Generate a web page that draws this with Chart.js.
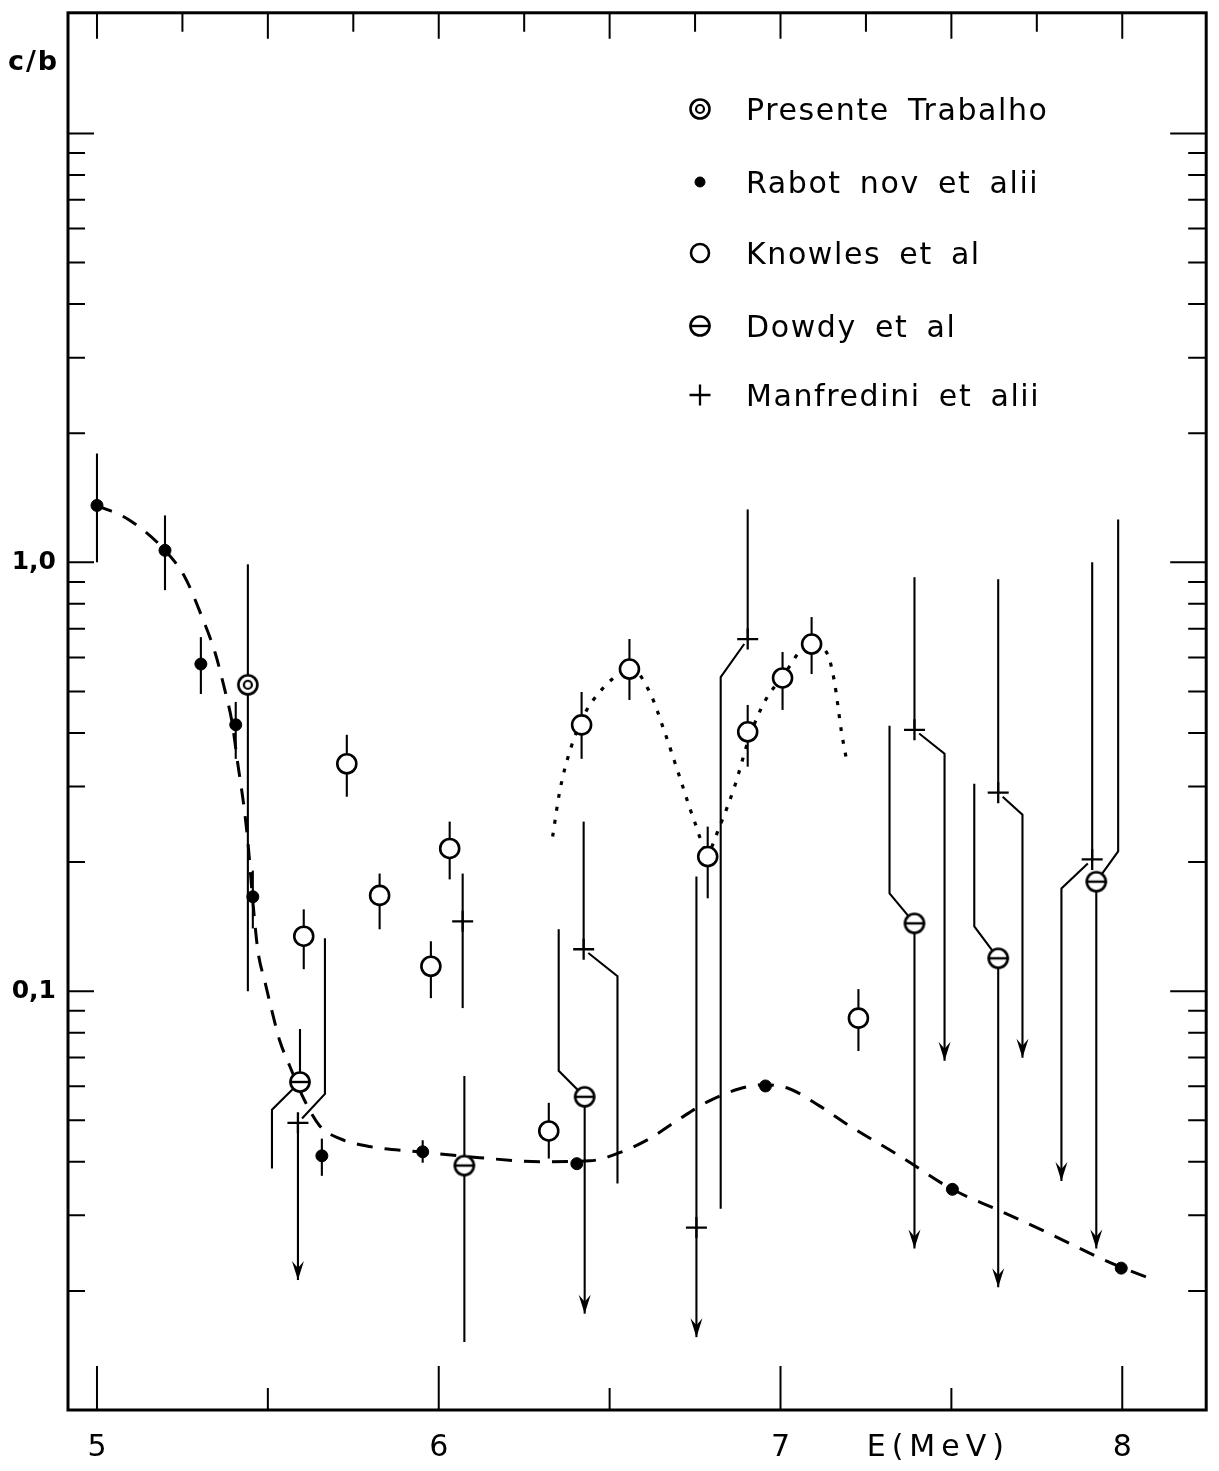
<!DOCTYPE html>
<html><head><meta charset="utf-8">
<script src="https://cdn.jsdelivr.net/npm/chart.js@4/dist/chart.umd.min.js"></script>
<style>html,body{margin:0;padding:0;background:#fff;}canvas{display:block;}</style>
</head><body>
<canvas id="c" width="1219" height="1471"></canvas>
<script>
// ---------------- data ----------------
const seriesNames = ['Presente Trabalho', 'Rabot nov et alii', 'Knowles et al', 'Dowdy et al', 'Manfredini et alii'];

// Presente Trabalho
const presE  = [5.4415];
const presV  = [0.518];
const presLo = [0.100];
const presHi = [0.989];

// Rabotnov et alii
const rabE  = [5.000, 5.199, 5.304, 5.406, 5.456, 5.658, 5.953, 6.404, 6.956, 7.503, 7.997];
const rabV  = [1.357, 1.066, 0.579, 0.418, 0.166, 0.0413, 0.0422, 0.0396, 0.0601, 0.0345, 0.0226];
const rabLo = [1.000, 0.861, 0.493, 0.348, 0.140, 0.0371, 0.0398, null, null, null, null];
const rabHi = [1.793, 1.286, 0.669, 0.4725, 0.191, 0.0453, 0.0449, null, null, null, null];

// Knowles et al
const knE  = [5.605, 5.731, 5.827, 5.977, 6.032, 6.322, 6.418, 6.558, 6.787, 6.904, 7.006, 7.091, 7.228];
const knV  = [0.1343, 0.339, 0.1672, 0.1143, 0.2151, 0.0472, 0.4177, 0.5637, 0.206, 0.4024, 0.5374, 0.6446, 0.0865];
const knLo = [0.1125, 0.284, 0.1394, 0.0963, 0.1822, 0.0407, 0.3481, 0.4775, 0.1646, 0.3337, 0.4526, 0.5489, 0.0725];
const knHi = [0.1551, 0.396, 0.188, 0.1307, 0.2485, 0.0549, 0.4984, 0.6623, 0.2419, 0.4649, 0.6176, 0.7450, 0.1011];

// Dowdy et al
const dowE  = [5.594, 6.075, 6.427, 7.392, 7.637, 7.924];
const dowV  = [0.0614, 0.0392, 0.0567, 0.1439, 0.1193, 0.180];
const dowLo = [0.0386, 0.0152, 0.0177, 0.0251, 0.0204, 0.0251];
const dowHi = [0.0816, 0.0634, 0.1394, 0.4155, 0.3045, 1.259];
const dowLoArrow  = [false, false, true, true, true, true];
const dowLoShiftE = [5.512, null, null, null, null, null];
const dowLoKneeV  = [0.0529, null, null, null, null, null];
const dowHiShiftE = [null, null, 6.351, 7.319, 7.567, 7.988];
const dowHiKneeV  = [null, null, 0.0652, 0.169, 0.1416, 0.2117];

// Manfredini et alii
const manE  = [5.588, 6.070, 6.424, 6.754, 6.904, 7.392, 7.637, 7.912];
const manV  = [0.0493, 0.1455, 0.1252, 0.0281, 0.662, 0.4068, 0.2903, 0.2028];
const manLo = [0.0212, 0.0913, 0.0356, 0.0156, 0.0311, 0.0688, 0.0699, 0.0361];
const manHi = [0.1328, 0.188, 0.2485, 0.185, 1.328, 0.923, 0.913, 1.0];
const manLoArrow  = [true, false, false, true, false, true, true, true];
const manLoShiftE = [null, null, 6.523, null, 6.825, 7.480, 7.708, 7.822];
const manLoKneeV  = [null, null, 0.1083, null, 0.540, 0.3577, 0.258, 0.1736];
const manHiShiftE = [5.667, null, null, null, null, null, null, null];
const manHiKneeV  = [0.0576, null, null, null, null, null, null, null];

// dashed curve (Rabotnov fit)
const rabFitE = [5.000, 5.0965, 5.199, 5.2573, 5.304, 5.345, 5.374, 5.395, 5.412, 5.430, 5.4415, 5.456, 5.471, 5.491, 5.512, 5.535, 5.564, 5.608, 5.652, 5.711, 5.798, 5.944, 6.120, 6.295, 6.442, 6.529, 6.617, 6.705, 6.792, 6.880, 6.953, 7.026, 7.114, 7.202, 7.348, 7.500, 7.640, 7.787, 7.933, 7.997, 8.094];
const rabFitV = [1.357, 1.252, 1.066, 0.923, 0.757, 0.6176, 0.5039, 0.4245, 0.339, 0.2693, 0.2233, 0.162, 0.1239, 0.1055, 0.0898, 0.0765, 0.0669, 0.0555, 0.0485, 0.0453, 0.0434, 0.0422, 0.0409, 0.0400, 0.0402, 0.0420, 0.0453, 0.0504, 0.0555, 0.0592, 0.0605, 0.0592, 0.0540, 0.0485, 0.0413, 0.0346, 0.0308, 0.0272, 0.0239, 0.0227, 0.0212];

// dotted curve (Knowles fit)
const knFitE = [6.3333, 6.3538, 6.383, 6.4269, 6.4708, 6.5146, 6.5585, 6.617, 6.6608, 6.7047, 6.7485, 6.7865, 6.8216, 6.8655, 6.9094, 6.9532, 7.0117, 7.0556, 7.0936, 7.1374, 7.1579, 7.1784, 7.1959];
const knFitV = [0.2293, 0.2918, 0.3615, 0.4431, 0.4984, 0.540, 0.570, 0.4984, 0.4024, 0.3162, 0.2485, 0.2117, 0.2419, 0.2998, 0.3918, 0.4725, 0.5489, 0.6176, 0.6446, 0.6110, 0.5259, 0.4024, 0.3373];

// axes
const xMin = 4.9152, xMax = 8.2456;
const yMin = 0.010551, yMax = 19.11;
const xLabelValues = [5, 6, 7, 8];
const xLabelTexts  = ['5', '6', '7', '8'];
const xTitle = 'E(MeV)';
const xTitleAt = 7.453;
const yLabelValues = [0.1, 1];
const yLabelTexts  = ['0,1', '1,0'];
const yTitle = 'c/b';
const xTicksBottom = [5, 5.5, 6, 6.5, 7, 7.5, 8];
const xTicksTop = [5, 5.25, 5.5, 5.75, 6, 6.25, 6.5, 6.75, 7, 7.25, 7.5, 7.75, 8];
const yTickValues = [0.02, 0.03, 0.04, 0.05, 0.06, 0.07, 0.08, 0.09,
                     0.1, 0.2, 0.3, 0.4, 0.5, 0.6, 0.7, 0.8, 0.9,
                     1, 2, 3, 4, 5, 6, 7, 8, 9, 10];

// ---------------- marker images ----------------
function makeMarker(kind) {
  const c = document.createElement('canvas');
  c.width = 26; c.height = 26;
  const g = c.getContext('2d');
  g.strokeStyle = '#000'; g.fillStyle = '#fff'; g.lineWidth = 2.6;
  g.beginPath(); g.arc(13, 13, 9.5, 0, Math.PI * 2); g.fill(); g.stroke();
  if (kind === 'double') {
    g.lineWidth = 2.2; g.beginPath(); g.arc(13, 13, 4, 0, Math.PI * 2); g.stroke();
  } else if (kind === 'bar') {
    g.lineWidth = 2.4; g.beginPath(); g.moveTo(2.5, 13); g.lineTo(23.5, 13); g.stroke();
  }
  return c;
}
const presImg = makeMarker('double');
const dowImg = makeMarker('bar');

const pts = (E, V) => E.map((e, i) => ({ x: e, y: V[i] }));

// ---------------- plugin: error bars, frame, ticks, legend ----------------
function arrowHead(ctx, x, y) {
  ctx.beginPath();
  ctx.moveTo(x, y);
  ctx.lineTo(x - 6, y - 19);
  ctx.lineTo(x, y - 12);
  ctx.lineTo(x + 6, y - 19);
  ctx.closePath();
  ctx.fill();
}
function bar(chart, e, v, end, shiftE, kneeV, arrow, r) {
  if (end == null) return;
  const ctx = chart.ctx, sx = chart.scales.x, sy = chart.scales.y;
  const px = sx.getPixelForValue(e), py = sy.getPixelForValue(v), pe = sy.getPixelForValue(end);
  let ax = px;
  ctx.beginPath();
  if (shiftE == null) {
    ctx.moveTo(px, py); ctx.lineTo(px, pe);
  } else {
    const qx = sx.getPixelForValue(shiftE), qy = sy.getPixelForValue(kneeV);
    const dx = qx - px, dy = qy - py, d = Math.hypot(dx, dy);
    ctx.moveTo(px + dx / d * r, py + dy / d * r);
    ctx.lineTo(qx, qy); ctx.lineTo(qx, pe);
    ax = qx;
  }
  ctx.stroke();
  if (arrow) arrowHead(ctx, ax, pe);
}

const figurePlugin = {
  id: 'figure',
  beforeDatasetsDraw(chart) {
    const ctx = chart.ctx;
    ctx.save();
    ctx.strokeStyle = '#000'; ctx.fillStyle = '#000'; ctx.lineWidth = 2.1;
    presE.forEach((e, i) => { bar(chart, e, presV[i], presHi[i], null, null, false, 10); bar(chart, e, presV[i], presLo[i], null, null, false, 10); });
    rabE.forEach((e, i) => { bar(chart, e, rabV[i], rabHi[i], null, null, false, 6); bar(chart, e, rabV[i], rabLo[i], null, null, false, 6); });
    knE.forEach((e, i) => { bar(chart, e, knV[i], knHi[i], null, null, false, 10); bar(chart, e, knV[i], knLo[i], null, null, false, 10); });
    dowE.forEach((e, i) => {
      bar(chart, e, dowV[i], dowHi[i], dowHiShiftE[i], dowHiKneeV[i], false, 10);
      bar(chart, e, dowV[i], dowLo[i], dowLoShiftE[i], dowLoKneeV[i], dowLoArrow[i], 10);
    });
    manE.forEach((e, i) => {
      bar(chart, e, manV[i], manHi[i], manHiShiftE[i], manHiKneeV[i], false, 6);
      bar(chart, e, manV[i], manLo[i], manLoShiftE[i], manLoKneeV[i], manLoArrow[i], 6);
    });
    ctx.restore();
  },
  afterDraw(chart) {
    const ctx = chart.ctx, a = chart.chartArea, sx = chart.scales.x, sy = chart.scales.y;
    ctx.save();
    ctx.strokeStyle = '#000'; ctx.fillStyle = '#000';
    // frame
    ctx.lineWidth = 3;
    ctx.strokeRect(a.left, a.top, a.right - a.left, a.bottom - a.top);
    // ticks
    ctx.lineWidth = 2;
    ctx.beginPath();
    xTicksBottom.forEach(v => {
      const x = sx.getPixelForValue(v), L = Number.isInteger(v) ? 44 : 22;
      ctx.moveTo(x, a.bottom); ctx.lineTo(x, a.bottom - L);
    });
    xTicksTop.forEach(v => {
      const x = sx.getPixelForValue(v), L = (v * 2) % 1 === 0 ? 26 : 19;
      ctx.moveTo(x, a.top); ctx.lineTo(x, a.top + L);
    });
    yTickValues.forEach(v => {
      const y = sy.getPixelForValue(v);
      const dec = Math.abs(Math.log10(v) - Math.round(Math.log10(v))) < 1e-9;
      ctx.moveTo(a.left, y); ctx.lineTo(a.left + (dec ? 26 : 17), y);
      ctx.moveTo(a.right, y); ctx.lineTo(a.right - (dec ? 36 : 18), y);
    });
    ctx.stroke();
    // axis titles
    ctx.font = 'bold 27px "DejaVu Sans"';
    ctx.letterSpacing = '2px';
    ctx.textAlign = 'left'; ctx.textBaseline = 'alphabetic';
    ctx.fillText(yTitle, 8, 70);
    ctx.font = '30px "DejaVu Sans"';
    ctx.letterSpacing = '6px';
    ctx.textAlign = 'center'; ctx.textBaseline = 'middle';
    ctx.fillText(xTitle, sx.getPixelForValue(xTitleAt) + 3, 1448);
    // legend
    const rows = [109, 182, 253, 326, 395];
    const order = [0, 1, 2, 3, 4];
    ctx.font = '30px "DejaVu Sans"';
    ctx.letterSpacing = '1.6px';
    ctx.wordSpacing = '7px';
    ctx.textAlign = 'left'; ctx.textBaseline = 'alphabetic';
    order.forEach((di, k) => {
      const ds = chart.data.datasets[di];
      ctx.save();
      ctx.fillStyle = ds.pointBackgroundColor || '#000';
      ctx.strokeStyle = '#000';
      ctx.lineWidth = ds.pointBorderWidth || 2;
      Chart.helpers.drawPoint(ctx, {
        pointStyle: ds.pointStyle, radius: ds.legendRadius || ds.pointRadius,
        borderWidth: ds.pointBorderWidth || 2, rotation: 0
      }, 700, rows[k]);
      ctx.restore();
      ctx.fillText(ds.label, 746, rows[k] + 11);
    });
    ctx.restore();
  }
};

Chart.defaults.font.family = '"DejaVu Sans"';
Chart.defaults.color = '#000';

new Chart(document.getElementById('c'), {
  type: 'scatter',
  data: {
    datasets: [
      { label: seriesNames[0], data: pts(presE, presV), pointStyle: presImg, pointRadius: 10, order: 0 },
      { label: seriesNames[1], data: pts(rabE, rabV), pointStyle: 'circle', pointRadius: 6, legendRadius: 5,
        pointBackgroundColor: '#000', pointBorderColor: '#000', pointBorderWidth: 1, order: 1 },
      { label: seriesNames[2], data: pts(knE, knV), pointStyle: 'circle', pointRadius: 9.5, legendRadius: 9,
        pointBackgroundColor: '#fff', pointBorderColor: '#000', pointBorderWidth: 2.6, order: 0 },
      { label: seriesNames[3], data: pts(dowE, dowV), pointStyle: dowImg, pointRadius: 10, order: 0 },
      { label: seriesNames[4], data: pts(manE, manV), pointStyle: 'cross', pointRadius: 10.5,
        pointBorderColor: '#000', pointBorderWidth: 2.3, order: 0 },
      { label: 'fit-dashed', data: pts(rabFitE, rabFitV), showLine: true, pointRadius: 0,
        borderColor: '#000', borderWidth: 3, borderDash: [16, 12], cubicInterpolationMode: 'monotone', order: 5 },
      { label: 'fit-dotted', data: pts(knFitE, knFitV), showLine: true, pointRadius: 0,
        borderColor: '#000', borderWidth: 3.2, borderDash: [4, 9], cubicInterpolationMode: 'monotone', order: 5 }
    ]
  },
  options: {
    responsive: false,
    animation: false,
    devicePixelRatio: 1,
    layout: { padding: { top: 9, right: 12, left: 0, bottom: 0 } },
    scales: {
      x: {
        type: 'linear', min: xMin, max: xMax,
        afterBuildTicks: s => { s.ticks = xLabelValues.map(v => ({ value: v })); },
        afterFit: s => { s.height = 61; s.paddingLeft = 0; s.paddingRight = 0; },
        grid: { display: false, drawTicks: false }, border: { display: false },
        ticks: { autoSkip: false, maxRotation: 0, padding: 20, color: '#000',
                 font: { size: 30, family: '"DejaVu Sans"' },
                 callback: (v, i) => xLabelTexts[i] }
      },
      y: {
        type: 'logarithmic', min: yMin, max: yMax,
        afterBuildTicks: s => { s.ticks = yLabelValues.map(v => ({ value: v })); },
        afterFit: s => { s.width = 68; s.paddingTop = 0; s.paddingBottom = 0; },
        grid: { display: false, drawTicks: false }, border: { display: false },
        ticks: { autoSkip: false, padding: 12, color: '#000',
                 font: { size: 25, weight: 'bold', family: '"DejaVu Sans"' },
                 callback: (v, i) => yLabelTexts[i] }
      }
    },
    plugins: { legend: { display: false }, tooltip: { enabled: false } }
  },
  plugins: [figurePlugin]
});
</script>
</body></html>
